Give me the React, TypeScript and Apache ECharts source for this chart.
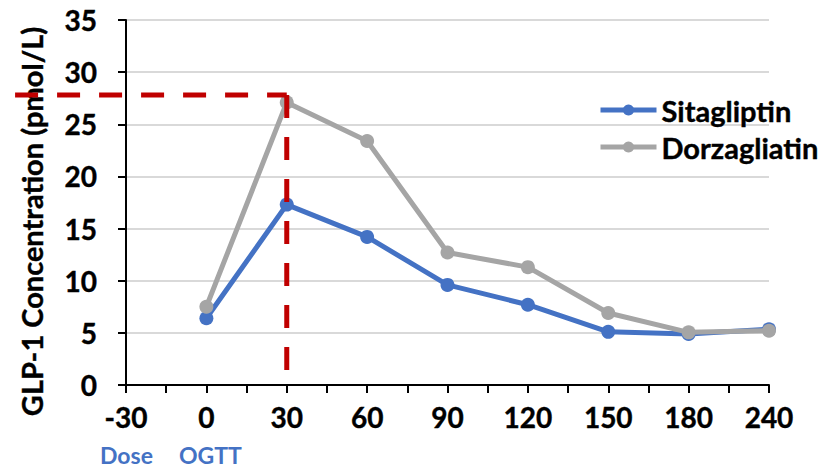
import React, { useEffect, useRef } from "react";
import * as echarts from "echarts";

const categories = ["-30", "0", "30", "60", "90", "120", "150", "180", "240"];
const sitagliptin: (number | null)[] = [null, 6.4, 17.3, 14.2, 9.6, 7.7, 5.1, 4.9, 5.35];
const dorzagliatin: (number | null)[] = [null, 7.5, 27.1, 23.4, 12.7, 11.3, 6.9, 5.05, 5.2];
const yTicks = { min: 0, max: 35, interval: 5 };
const peakRef = { x: 2, y: 27.8, xStart: -1.38 };
const FONT = "Lato, 'Open Sans', sans-serif";

function toPairs(vals: (number | null)[]) {
  return vals
    .map((v, i) => (v == null ? null : [i, v]))
    .filter((p) => p !== null) as number[][];
}

export default function App() {
  const ref = useRef<HTMLDivElement>(null);
  useEffect(() => {
    if (!ref.current) return;
    const chart = echarts.init(ref.current, null, { renderer: "svg" });
    const boldText = { fontFamily: FONT, fontWeight: "bold", color: "#000", textBorderColor: "#000", textBorderWidth: 0.4 };
    const option: any = {
      animation: false,
      backgroundColor: "#fff",
      grid: { left: 126, right: 57, top: 20, bottom: 84 },
      legend: {
        orient: "vertical",
        left: 598,
        top: 95,
        padding: 0,
        itemWidth: 56,
        itemHeight: 14,
        itemGap: 7,
        lineStyle: { width: 5 },
        textStyle: { ...boldText, fontSize: 29, lineHeight: 30 },
        data: ["Sitagliptin", "Dorzagliatin"],
      },
      xAxis: {
        type: "value",
        min: 0,
        max: categories.length - 1,
        interval: 0.5,
        axisLine: { show: true, lineStyle: { color: "#000", width: 2 } },
        axisTick: { show: true, length: 8, lineStyle: { color: "#000", width: 2 } },
        splitLine: { show: false },
        axisLabel: {
          ...boldText,
          margin: 18,
          fontSize: 28,
          formatter: (v: number) => (Number.isInteger(v) ? categories[v] : ""),
        },
      },
      yAxis: {
        type: "value",
        min: yTicks.min,
        max: yTicks.max,
        interval: yTicks.interval,
        name: "GLP-1 Concentration (pmol/L)",
        nameLocation: "middle",
        nameGap: 80,
        nameTextStyle: { ...boldText, fontSize: 29, padding: [0, 38, 0, 0] },
        axisLine: { show: true, lineStyle: { color: "#000", width: 2 } },
        axisTick: { show: true, length: 8, lineStyle: { color: "#000", width: 2 } },
        splitLine: { show: true, lineStyle: { color: "#d9d9d9", width: 2 } },
        axisLabel: { ...boldText, margin: 29, fontSize: 28 },
      },
      series: [
        {
          name: "Sitagliptin",
          type: "line",
          data: toPairs(sitagliptin),
          symbol: "circle",
          symbolSize: 14,
          lineStyle: { color: "#4472c4", width: 5 },
          itemStyle: { color: "#4472c4" },
          z: 2,
        },
        {
          name: "Dorzagliatin",
          type: "line",
          data: toPairs(dorzagliatin),
          symbol: "circle",
          symbolSize: 14,
          lineStyle: { color: "#a5a5a5", width: 5 },
          itemStyle: { color: "#a5a5a5" },
          z: 3,
        },
      ],
    };
    chart.setOption(option);

    const pStart = chart.convertToPixel({ gridIndex: 0 }, [peakRef.xStart, peakRef.y]) as number[];
    const pCorner = chart.convertToPixel({ gridIndex: 0 }, [peakRef.x, peakRef.y]) as number[];
    const pBottom = chart.convertToPixel({ gridIndex: 0 }, [peakRef.x, 0]) as number[];
    const pDose = chart.convertToPixel({ gridIndex: 0 }, [0, 0]) as number[];
    const pOgtt = chart.convertToPixel({ gridIndex: 0 }, [1, 0]) as number[];
    const dash = { stroke: "#c00000", lineWidth: 5, lineDash: [23, 19] };
    chart.setOption({
      graphic: [
        {
          type: "line",
          z: 100,
          shape: { x1: pStart[0], y1: pStart[1], x2: pCorner[0], y2: pCorner[1] },
          style: dash,
        },
        {
          type: "line",
          z: 100,
          shape: { x1: pCorner[0], y1: pCorner[1], x2: pBottom[0], y2: pBottom[1] },
          style: dash,
        },
        {
          type: "text",
          x: pDose[0] - 26,
          y: pDose[1] + 70,
          style: { text: "Dose", fill: "#4472c4", font: `bold 23px ${FONT}`, textAlign: "left", textVerticalAlign: "middle" },
        },
        {
          type: "text",
          x: pOgtt[0] + 4,
          y: pOgtt[1] + 70,
          style: { text: "OGTT", fill: "#4472c4", font: `bold 23px ${FONT}`, textAlign: "center", textVerticalAlign: "middle" },
        },
      ],
    });
    return () => chart.dispose();
  }, []);
  return <div ref={ref} style={{ width: 826, height: 469, position: "absolute", left: 0, top: 0 }} />;
}
